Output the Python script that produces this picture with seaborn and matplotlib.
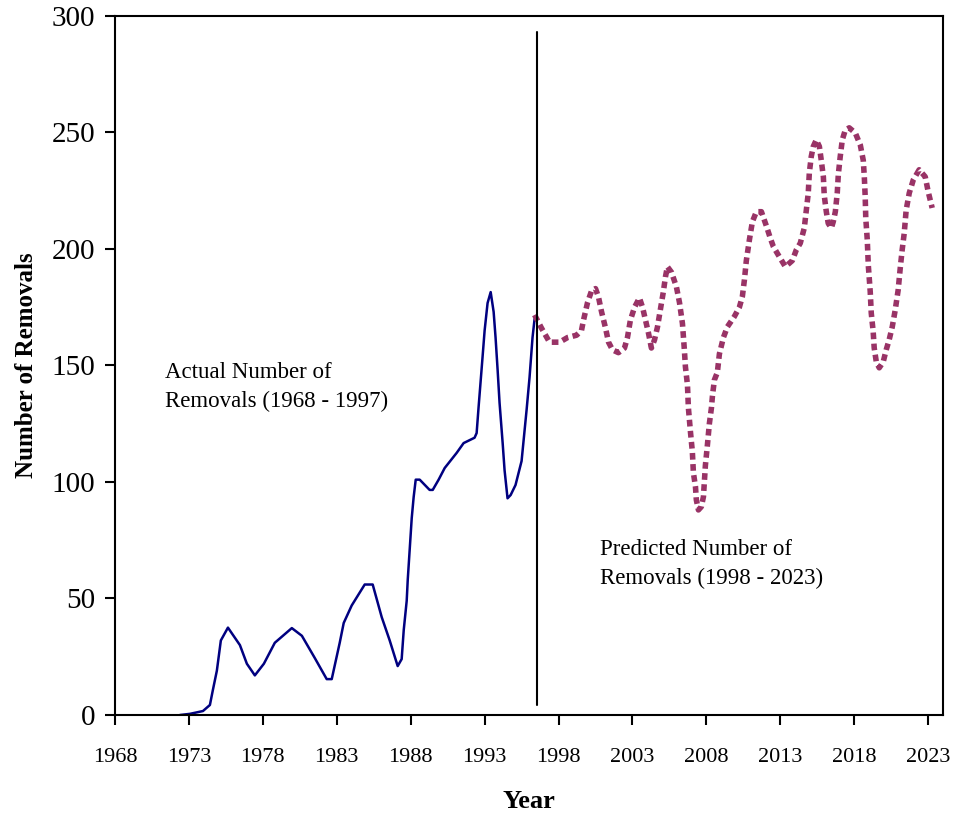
import matplotlib
matplotlib.use("Agg")
import matplotlib.pyplot as plt
import seaborn as sns
import pandas as pd

# actual removals, 1968 - 1997
actual_years = [1972.39, 1973.07, 1973.95, 1974.42, 1974.62, 1974.89, 1975.16, 1975.64,
                1976.45, 1976.92, 1977.46, 1978.07, 1978.81, 1979.96, 1980.64, 1981.51,
                1982.32, 1982.66, 1983.20, 1983.47, 1984.01, 1984.89, 1985.43, 1986.04,
                1986.58, 1987.12, 1987.39, 1987.53, 1987.73, 1987.80, 1988.07, 1988.20,
                1988.34, 1988.61, 1989.28, 1989.49, 1989.89, 1990.30, 1991.11, 1991.58,
                1992.32, 1992.46, 1992.59, 1992.86, 1993.00, 1993.20, 1993.41, 1993.61,
                1993.74, 1993.88, 1994.01, 1994.22, 1994.35, 1994.55, 1994.76, 1995.09,
                1995.50, 1995.84, 1996.04, 1996.24, 1996.38]
actual_vals = [0, 0.5, 1.7, 4.3, 10.7, 19, 32, 37.5,
               30, 22, 17, 22, 31, 37.3, 34, 24.5,
               15.4, 15.4, 31, 39.5, 47, 56, 56, 42,
               32, 21, 24, 36.5, 49, 58, 84.5, 93.5,
               101, 101, 96.6, 96.6, 101, 106, 112.5, 116.7,
               119, 121, 132, 153.6, 165, 176.8, 181.5, 173,
               162, 148, 134, 116.7, 105, 93, 94.4, 98.7,
               109, 131, 145, 162, 170]

# predicted removals, 1998 - 2023
pred_years = [1996.38, 1996.85, 1997.39, 1998.07, 1998.61, 1999.22, 1999.55, 1999.69,
              1999.96, 2000.23, 2000.50, 2000.70, 2000.91, 2001.18, 2001.38, 2001.65,
              2002.05, 2002.46, 2002.66, 2002.86, 2003.14, 2003.47, 2003.68, 2003.88,
              2004.08, 2004.28, 2004.49, 2004.69, 2004.89, 2005.09, 2005.23, 2005.36,
              2005.64, 2005.97, 2006.18, 2006.38, 2006.51, 2006.58, 2006.72, 2006.78,
              2006.92, 2007.05, 2007.12, 2007.26, 2007.32, 2007.46, 2007.66, 2007.80,
              2007.86, 2007.93, 2008.07, 2008.20, 2008.34, 2008.41, 2008.54, 2008.74,
              2008.88, 2009.15, 2009.42, 2009.89, 2010.23, 2010.43, 2010.57, 2010.70,
              2010.91, 2011.11, 2011.38, 2011.72, 2012.05, 2012.32, 2012.53, 2012.93,
              2013.34, 2013.81, 2014.08, 2014.35, 2014.62, 2014.76, 2014.89, 2014.96,
              2015.09, 2015.23, 2015.43, 2015.64, 2015.77, 2015.91, 2015.97, 2016.11,
              2016.24, 2016.45, 2016.58, 2016.72, 2016.85, 2016.92, 2017.05, 2017.19,
              2017.39, 2017.66, 2018.07, 2018.41, 2018.61, 2018.68, 2018.74, 2018.78,
              2018.88, 2018.95, 2019.08, 2019.15, 2019.28, 2019.35, 2019.49, 2019.69,
              2019.96, 2020.16, 2020.36, 2020.57, 2020.77, 2020.97, 2021.11, 2021.24,
              2021.38, 2021.51, 2021.72, 2021.99, 2022.39, 2022.80, 2023.00, 2023.27]
pred_vals = [171.7, 166, 160, 160, 162, 163, 165, 169.5,
             177, 182, 183, 179.4, 173, 166, 160, 156.7,
             155.5, 157.5, 162, 169.5, 175, 179, 175, 169.5,
             164, 157.5, 161, 166.5, 174, 181.7, 188, 192.4,
             190, 183.8, 177, 168, 156.7, 149.5, 141.6, 132,
             121.6, 113, 104, 98, 92.3, 88, 89.4, 93.7,
             99.6, 107, 116, 125, 131.8, 137, 143.8, 147,
             155, 162, 166.6, 171, 175, 179.5, 186.7, 195,
             204, 211.7, 216, 216, 210, 204.7, 201, 196.7,
             192.4, 195, 199.6, 202.5, 209, 216.7, 224, 232.6,
             239.6, 244, 246.8, 244, 238, 231, 223, 216,
             211, 209, 211.7, 216, 224, 231.8, 239.6, 246.8,
             251, 252, 249.8, 244.6, 238, 231, 222.5, 213,
             204, 193, 181.7, 172.5, 164.5, 157.5, 151.6, 149,
             151.6, 156.7, 161, 166.6, 173.8, 182.4, 191.8, 199.6,
             206.8, 216.7, 224, 229.6, 234, 231, 224.6, 217.6]

tick_years = [1968, 1973, 1978, 1983, 1988, 1993, 1998, 2003, 2008, 2013, 2018, 2023]
y_ticks = [0, 50, 100, 150, 200, 250, 300]
split_year = 1996.51

sns.set_theme(style="ticks")
plt.rcParams['font.family'] = ['Liberation Serif', 'DejaVu Serif']
plt.rcParams['text.color'] = 'black'
plt.rcParams['axes.labelcolor'] = 'black'
plt.rcParams['xtick.color'] = 'black'
plt.rcParams['ytick.color'] = 'black'

actual = pd.DataFrame({"year": actual_years, "removals": actual_vals})
pred = pd.DataFrame({"year": pred_years, "removals": pred_vals})

fig = plt.figure(figsize=(9.63, 8.15), dpi=100)
ax = fig.add_axes([0.1194, 0.1227, 0.8598, 0.8577])

sns.lineplot(data=actual, x="year", y="removals", ax=ax, color="#000080",
             linewidth=1.8, sort=False, estimator=None)
sns.lineplot(data=pred, x="year", y="removals", ax=ax, color="#993366",
             linewidth=4, sort=False, estimator=None, dashes=False)
ax.lines[-1].set_dashes([1.2, 0.8])

# boundary between actual and predicted
ax.plot([split_year, split_year], [4.3, 293], color="black", linewidth=1.5)

ax.set_xlim(1968, 2024)
ax.set_ylim(0, 300)
ax.set_xticks(tick_years)
ax.set_yticks(y_ticks)
ax.tick_params(axis="x", labelsize=16, length=7, width=1.5, direction="out", pad=17)
ax.tick_params(axis="y", labelsize=21, length=7, width=1.5, direction="out", pad=7)
for sp in ax.spines.values():
    sp.set_linewidth(1.5)
    sp.set_color("black")

ax.set_xlabel("Year", fontsize=19, fontweight="bold", labelpad=16)
ax.set_ylabel("Number of Removals", fontsize=18, fontweight="bold", labelpad=10)

ax.text(1971.4, 140.8, "Actual Number of\nRemovals (1968 - 1997)", fontsize=16.5,
        va="center", ha="left", linespacing=1.45)
ax.text(2000.8, 64.8, "Predicted Number of\nRemovals (1998 - 2023)", fontsize=16.5,
        va="center", ha="left", linespacing=1.45)

fig.savefig("out.png", dpi=100)
